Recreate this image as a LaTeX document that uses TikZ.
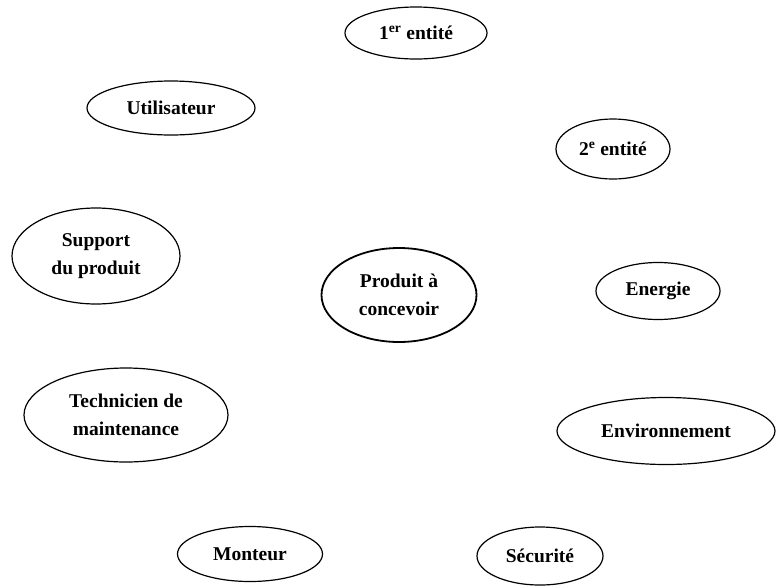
\documentclass[tikz,border=0pt]{standalone}
\usepackage{fontspec}
\setmainfont{Liberation Serif}
\usetikzlibrary{shapes.geometric}
\begin{document}
\begin{tikzpicture}[x=1pt,y=-1pt,
  actor/.style={ellipse, draw, line width=1.2pt, inner sep=0pt, align=center,
    font=\fontsize{19.5}{28}\selectfont\bfseries},
  core/.style={actor, line width=1.8pt}]
\useasboundingbox (0,0) rectangle (779,587);
\node[actor, minimum width=142, minimum height=52] (e1) at (416,33) {1\textsuperscript{er} entité};
\node[actor, minimum width=168, minimum height=54] (user) at (171,108) {Utilisateur};
\node[actor, minimum width=114, minimum height=60] (e2) at (613,149) {2\textsuperscript{e} entité};
\node[actor, minimum width=168, minimum height=96] (support) at (96,256) {Support\\du produit};
\node[core, minimum width=155, minimum height=94] (prod) at (399,295) {Produit à\\concevoir};
\node[actor, minimum width=124, minimum height=57] (energy) at (658,291) {Energie};
\node[actor, minimum width=204, minimum height=94] (tech) at (126,415) {Technicien de\\maintenance};
\node[actor, minimum width=218, minimum height=67] (env) at (666,431) {Environnement};
\node[actor, minimum width=145, minimum height=55] (mont) at (250,554) {Monteur};
\node[actor, minimum width=126, minimum height=58] (secu) at (540,556) {Sécurité};
\end{tikzpicture}
\end{document}
